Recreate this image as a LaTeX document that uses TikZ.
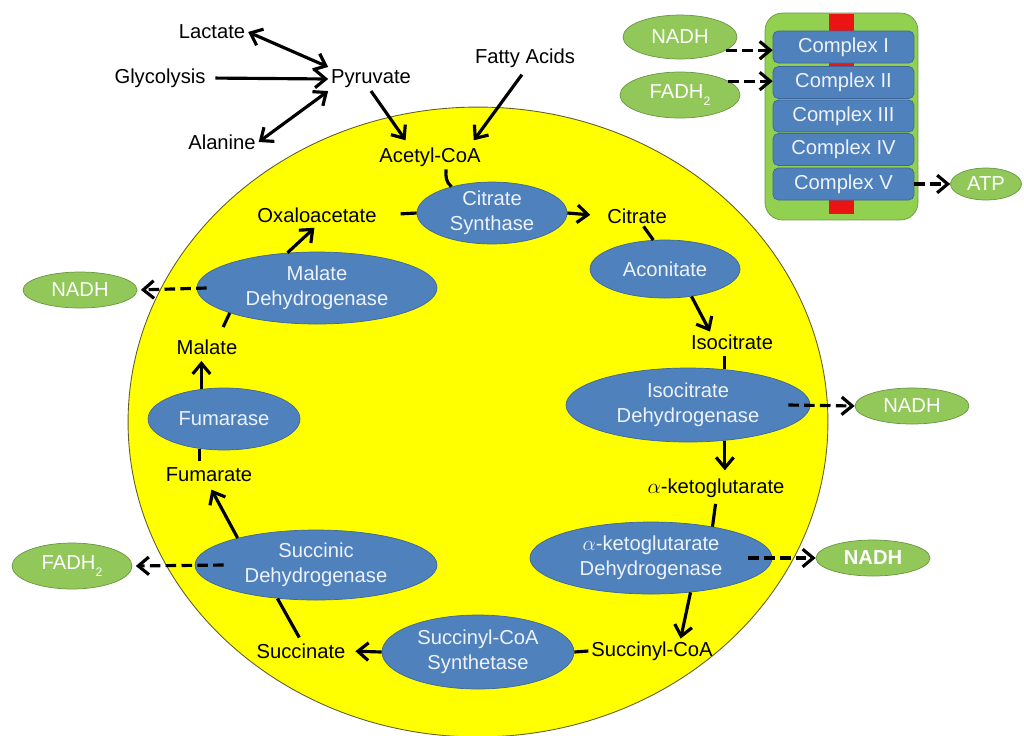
\documentclass[tikz,border=0pt]{standalone}
\usepackage{fontspec}
\setmainfont{Liberation Sans}
\usetikzlibrary{positioning, arrows.meta, shapes.geometric, calc}

\definecolor{matrixyellow}{RGB}{255,255,0}
\definecolor{enzblue}{RGB}{79,129,189}
\definecolor{enzline}{RGB}{62,102,152}
\definecolor{carriergreen}{RGB}{146,200,90}
\definecolor{carrierline}{RGB}{105,150,65}
\definecolor{etcgreen}{RGB}{146,208,80}
\definecolor{etcred}{RGB}{235,20,20}
\definecolor{paletext}{RGB}{238,242,250}

\tikzset{
  enzyme/.style={draw=enzline, fill=enzblue, ellipse, inner sep=0pt, text=paletext, align=center},
  carrier/.style={draw=carrierline, fill=carriergreen, ellipse, inner sep=0pt, text=white},
  metab/.style={inner sep=1.5pt},
  cplx/.style={draw=enzline, fill=enzblue, rounded corners=3pt, minimum width=2.82cm, minimum height=0.64cm, inner sep=0pt, text=paletext},
  flow/.style={line width=1.8pt, -{Straight Barb[length=6pt,width=10pt]}},
  both/.style={line width=1.8pt, {Straight Barb[length=6pt,width=10pt]}-{Straight Barb[length=6pt,width=10pt]}},
  link/.style={line width=1.8pt},
  yield/.style={line width=1.8pt, dash pattern=on 6pt off 3pt, -{Straight Barb[length=6pt,width=10pt]}}
}

\begin{document}
\begin{tikzpicture}[x=0.02cm, y=-0.02cm, font=\fontsize{11.5}{14.2}\selectfont]
    \useasboundingbox (0,0) rectangle (1024,735);

    % mitochondrial matrix
    \draw[fill=matrixyellow, draw=olive!60!black, line width=0.5pt] (478,422) ellipse [x radius=7cm, y radius=6.3cm];

    % feeding pathways
    \node (lac) [metab] at (212,32) {Lactate};
    \node (gly) [metab] at (160,78) {Glycolysis};
    \node (pyr) [metab] at (371,79) {Pyruvate};
    \node (ala) [metab] at (222,142) {Alanine};
    \node (fa) [metab] at (525,58) {Fatty Acids};
    \node (acoa) [metab] at (430,157) {Acetyl-CoA};

    % cycle
    \node (cs) [enzyme, minimum width=3cm, minimum height=1.2cm] at (492,213) {Citrate\\Synthase};
    \node (oxa) [metab] at (317,215) {Oxaloacetate};
    \node (cit) [metab] at (637,216) {Citrate};
    \node (acon) [enzyme, minimum width=3cm, minimum height=1.16cm] at (665,269) {Aconitate};
    \node (iso) [metab] at (732,342) {Isocitrate};
    \node (idh) [enzyme, minimum width=4.88cm, minimum height=1.48cm] at (688,405) {Isocitrate\\Dehydrogenase};
    \node (akg) [metab] at (716,488) {$\alpha$-ketoglutarate};
    \node (akgdh) [enzyme, minimum width=4.84cm, minimum height=1.44cm] at (651,558) {$\alpha$-ketoglutarate\\Dehydrogenase};
    \node (succoa) [metab] at (652,651) {Succinyl-CoA};
    \node (scs) [enzyme, minimum width=3.84cm, minimum height=1.48cm] at (478,652) {Succinyl-CoA\\Synthetase};
    \node (succ) [metab] at (301,651) {Succinate};
    \node (sdh) [enzyme, minimum width=4.84cm, minimum height=1.4cm] at (316,565) {Succinic\\Dehydrogenase};
    \node (fuma) [metab] at (209,475) {Fumarate};
    \node (fum) [enzyme, minimum width=3.04cm, minimum height=1.24cm] at (224,419) {Fumarase};
    \node (mal) [metab] at (207,347) {Malate};
    \node (mdh) [enzyme, minimum width=4.8cm, minimum height=1.44cm] at (317,288) {Malate\\Dehydrogenase};

    % carriers
    \node (nadhmdh) [carrier, minimum width=2.28cm, minimum height=0.72cm] at (80,290) {NADH};
    \node (nadhidh) [carrier, minimum width=2.28cm, minimum height=0.72cm] at (912,406) {NADH};
    \node (nadhakg) [carrier, minimum width=2.28cm, minimum height=0.72cm] at (873,558) {\bfseries NADH};
    \node (fadhsdh) [carrier, minimum width=2.4cm, minimum height=0.92cm] at (72,566) {FADH\raisebox{-0.6ex}{\scriptsize 2}};

    % electron transport chain
    \node (etc) [draw=carrierline, fill=etcgreen, rounded corners=0.35cm, minimum width=3.06cm, minimum height=4.14cm, inner sep=0pt] at (841.5,116.5) {};
    \fill[etcred] (829,13.5) rectangle (854,66);
    \fill[etcred] (829,198) rectangle (854,213.5);
    \node (c1) [cplx] at (843.5,47) {Complex I};
    \node (c2) [cplx] at (843.5,82.5) {Complex II};
    \node (c3) [cplx] at (843.5,116) {Complex III};
    \node (c4) [cplx] at (843.5,149.5) {Complex IV};
    \node (c5) [cplx] at (843.5,184) {Complex V};
    \node (nadhetc) [carrier, minimum width=2.28cm, minimum height=0.88cm] at (680,37) {NADH};
    \node (fadhetc) [carrier, minimum width=2.4cm, minimum height=0.92cm] at (680,95) {FADH\raisebox{-0.6ex}{\scriptsize 2}};
    \node (atp) [carrier, minimum width=1.42cm, minimum height=0.64cm] at (986,184) {ATP};

    % links
    \draw[both] (lac.east) -- (pyr.north west);
    \draw[flow, shorten <=4pt] (gly.east) -- (pyr.west);
    \draw[both] (ala.east) -- (pyr.south west);
    \draw[flow, shorten >=3pt] (pyr.south) -- ($(acoa.north west)!0.3!(acoa.north east)$);
    \draw[flow, shorten >=3pt, shorten <=3pt] (fa.south) -- ($(acoa.north west)!0.88!(acoa.north east)$);
    \draw[link] ($(acoa.south)!0.3!(acoa.south east)$) to[out=-95, in=140] (cs.147);
    \draw[link, shorten <=12pt] (oxa.east) -- (cs.west);
    \draw[flow, shorten >=8pt] (cs.east) -- (cit.west);
    \draw[link] ($(cit.south)!0.2!(cit.south east)$) -- (acon.112);
    \draw[flow] (acon.-46) -- ($(iso.north west)!0.25!(iso.north east)$);
    \draw[link, shorten <=2pt] (iso.south -| idh.44) -- (idh.44);
    \draw[flow, shorten >=3pt] (idh.-44) -- (idh.-44 |- akg.north);
    \draw[yield] ([xshift=-0.44cm]idh.east) -- (nadhidh.west);
    \draw[link, shorten <=2pt] (akg.south) -- (akgdh.27);
    \draw[yield] ([xshift=-0.48cm]akgdh.east) -- (nadhakg.west);
    \draw[flow] (akgdh.-41) -- ($(succoa.north)!0.45!(succoa.north east)$);
    \draw[link] (succoa.west) -- (scs.east);
    \draw[flow, shorten >=4pt] (scs.west) -- (succ.east);
    \draw[link, shorten <=2pt] (succ.north) -- (sdh.-139);
    \draw[yield, shorten >=2pt] ([xshift=0.58cm]sdh.west) -- (fadhsdh.east);
    \draw[flow, shorten >=3pt] (sdh.161) -- (fuma.south);
    \draw[link, shorten <=2pt] (fuma.north -| fum.-129) -- (fum.-129);
    \draw[flow, shorten >=2pt] (fum.127) -- (fum.127 |- mal.south);
    \draw[link, shorten <=6pt] ($(mal.north)!0.35!(mal.north east)$) -- (mdh.-164);
    \draw[flow, shorten >=2pt] (mdh.130) -- (oxa.south);
    \draw[yield, shorten >=2pt] ([xshift=0.2cm]mdh.west) -- (nadhmdh.east);
    \draw[yield] (nadhetc.-16) -- (nadhetc.-16 -| c1.west);
    \draw[yield] (fadhetc.16) -- (fadhetc.16 -| c2.west);
    \draw[yield] (c5.east) -- (atp.west);
\end{tikzpicture}
\end{document}
